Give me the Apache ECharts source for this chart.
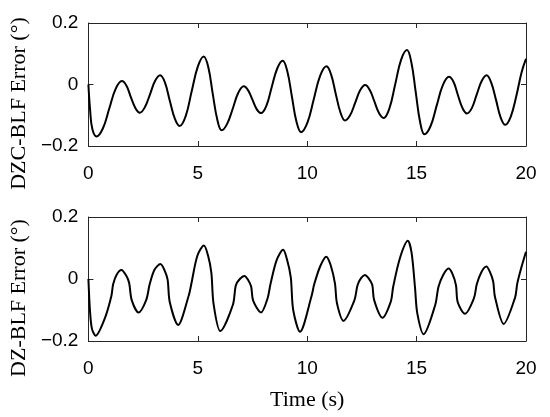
<!DOCTYPE html>
<html>
<head>
<meta charset="utf-8">
<script src="https://cdn.jsdelivr.net/npm/echarts@6/dist/echarts.min.js"></script>
<style>
  html, body { margin: 0; padding: 0; background: #fff; }
  #chart { width: 550px; height: 417px; }
</style>
</head>
<body>
<div id="chart"></div>
<script>
// values (time in s, error in deg)
const dzcTime = [0, 0.08, 0.18, 0.37, 0.66, 0.95, 1.24, 1.53, 1.74, 1.94, 2.15, 2.35, 2.58, 2.82, 3.05, 3.28,
  3.5, 3.72, 3.95, 4.17, 4.45, 4.72, 5.0, 5.27, 5.48, 5.68, 5.89, 6.09, 6.34, 6.6, 6.85, 7.1,
  7.3, 7.5, 7.69, 7.89, 8.14, 8.38, 8.63, 8.88, 9.09, 9.3, 9.51, 9.72, 10.01, 10.3, 10.59, 10.88,
  11.09, 11.3, 11.52, 11.73, 11.96, 12.19, 12.42, 12.65, 12.86, 13.07, 13.28, 13.49, 13.76, 14.02, 14.29, 14.56,
  14.76, 14.96, 15.16, 15.36, 15.64, 15.92, 16.2, 16.48, 16.69, 16.89, 17.1, 17.3, 17.53, 17.75, 17.98, 18.2,
  18.41, 18.63, 18.84, 19.05, 19.3, 19.55, 19.8, 20]
const dzcError = [0, -0.085, -0.145, -0.169, -0.143, -0.079, -0.015, 0.011, -0.004, -0.041, -0.077, -0.092, -0.074, -0.031, 0.012, 0.03,
  0.006, -0.053, -0.111, -0.135, -0.102, -0.022, 0.058, 0.091, 0.056, -0.029, -0.114, -0.149, -0.128, -0.078, -0.027, -0.006,
  -0.019, -0.05, -0.08, -0.093, -0.068, -0.008, 0.052, 0.077, 0.043, -0.039, -0.121, -0.155, -0.124, -0.048, 0.028, 0.059,
  0.033, -0.029, -0.091, -0.117, -0.1, -0.06, -0.019, -0.002, -0.018, -0.055, -0.093, -0.109, -0.077, 0.0, 0.08, 0.112,
  0.072, -0.025, -0.122, -0.162, -0.135, -0.068, -0.002, 0.025, 0.008, -0.035, -0.077, -0.094, -0.076, -0.032, 0.012, 0.03,
  0.006, -0.05, -0.107, -0.131, -0.105, -0.04, 0.04, 0.083]

const dzTime = [0, 0.07, 0.16, 0.33, 0.75, 1.05, 1.13, 1.29, 1.51, 1.72, 1.86, 1.98, 2.29, 2.64, 2.8, 3.02, 3.29, 3.48, 3.62, 3.72,
  4.1, 4.58, 4.7, 4.98, 5.28, 5.47, 5.62, 5.72, 6.03, 6.6, 6.74, 6.92, 7.13, 7.3, 7.44, 7.53, 7.89, 8.19, 8.32, 8.6, 8.9, 9.08,
  9.25, 9.36, 9.67, 10.2, 10.32, 10.6, 10.87, 11.07, 11.27, 11.36, 11.66, 12.15, 12.3, 12.46, 12.64, 12.8, 12.97, 13.06, 13.44,
  13.82, 13.93, 14.25, 14.6, 14.77, 14.93, 15.03, 15.32, 15.85, 16.0, 16.22, 16.46, 16.63, 16.8, 16.88, 17.21, 17.62, 17.75,
  17.96, 18.19, 18.35, 18.5, 18.58, 18.98, 19.5, 19.6, 19.8, 20]
const dzError = [0, -0.1, -0.16, -0.183, -0.127, -0.055, -0.017, 0.014, 0.029, 0.012, -0.012, -0.068, -0.108, -0.068, -0.017, 0.03, 0.048, 0.028, -0.002, -0.075,
  -0.148, -0.055, -0.017, 0.075, 0.108, 0.075, 0.02, -0.08, -0.168, -0.084, -0.02, 0.0, 0.01, -0.003, -0.025, -0.07, -0.108, -0.062, -0.017, 0.06, 0.094, 0.062,
  0.005, -0.1, -0.17, -0.055, -0.017, 0.042, 0.072, 0.045, -0.015, -0.078, -0.135, -0.07, -0.02, 0.003, 0.013, 0.003, -0.018, -0.068, -0.125,
  -0.073, -0.025, 0.07, 0.123, 0.085, -0.03, -0.11, -0.178, -0.084, -0.025, 0.014, 0.034, 0.018, -0.02, -0.075, -0.112, -0.062, -0.017,
  0.022, 0.04, 0.023, -0.008, -0.057, -0.145, -0.06, -0.015, 0.04, 0.088]

const xTicks = [0, 5, 10, 15, 20]
const yTicks = [-0.2, 0, 0.2]
const topLabel = 'DZC-BLF Error (°)'
const bottomLabel = 'DZ-BLF Error (°)'
const xLabel = 'Time (s)'

const zip = (xs, ys) => xs.map((x, i) => [x, ys[i]])

const chart = echarts.init(document.getElementById('chart'), null, { renderer: 'canvas' })

const axisColor = '#262626'
const tickFont = { color: '#000', fontFamily: 'Liberation Sans, Arial, sans-serif', fontSize: 19 }
const nameFont = { color: '#000', fontFamily: 'Liberation Serif, Times New Roman, serif', fontSize: 22 }

function xAxisFor (grid, pos, withLabels) {
  return {
    type: 'value',
    gridIndex: grid,
    position: pos,
    min: xTicks[0],
    max: xTicks[xTicks.length - 1],
    interval: 5,
    axisLine: { show: true, onZero: false, lineStyle: { color: axisColor, width: 1 } },
    axisTick: { show: true, inside: true, length: 5, lineStyle: { color: axisColor } },
    axisLabel: Object.assign({ show: withLabels, margin: 18 }, tickFont),
    splitLine: { show: false }
  }
}

function yAxisFor (grid, pos, withLabels, name) {
  return {
    type: 'value',
    gridIndex: grid,
    position: pos,
    min: yTicks[0],
    max: yTicks[yTicks.length - 1],
    interval: 0.2,
    name: name || '',
    nameLocation: 'middle',
    nameGap: 55,
    nameRotate: 90,
    nameTextStyle: Object.assign({ padding: [0, 38, 0, 0] }, nameFont),
    axisLine: { show: true, onZero: false, lineStyle: { color: axisColor, width: 1 } },
    axisTick: { show: true, inside: true, length: 5, lineStyle: { color: axisColor } },
    axisLabel: Object.assign({
      show: withLabels,
      margin: 10,
      formatter: v => String(Math.round(v * 10) / 10).replace('-', '\u2212')
    }, tickFont),
    splitLine: { show: false }
  }
}

const xBottom = xAxisFor(1, 'bottom', true)
xBottom.name = xLabel
xBottom.nameLocation = 'middle'
xBottom.nameGap = 48
xBottom.nameTextStyle = nameFont

const option = {
  animation: false,
  backgroundColor: '#fff',
  grid: [
    { left: 84, right: 24, top: 23, height: 123 },
    { left: 84, right: 24, top: 217, height: 124 }
  ],
  xAxis: [
    xAxisFor(0, 'bottom', true),
    xBottom,
    xAxisFor(0, 'top', false),
    xAxisFor(1, 'top', false)
  ],
  yAxis: [
    yAxisFor(0, 'left', true, topLabel),
    yAxisFor(1, 'left', true, bottomLabel),
    yAxisFor(0, 'right', false),
    yAxisFor(1, 'right', false)
  ],
  series: [
    {
      name: 'DZC-BLF',
      type: 'line',
      xAxisIndex: 0,
      yAxisIndex: 0,
      smooth: 0.4,
      showSymbol: false,
      lineStyle: { color: '#000', width: 2 },
      data: zip(dzcTime, dzcError)
    },
    {
      name: 'DZ-BLF',
      type: 'line',
      xAxisIndex: 1,
      yAxisIndex: 1,
      smooth: 0.3,
      showSymbol: false,
      lineStyle: { color: '#000', width: 2 },
      data: zip(dzTime, dzError)
    }
  ]
}

chart.setOption(option)
window.addEventListener('resize', () => chart.resize())
</script>
</body>
</html>
